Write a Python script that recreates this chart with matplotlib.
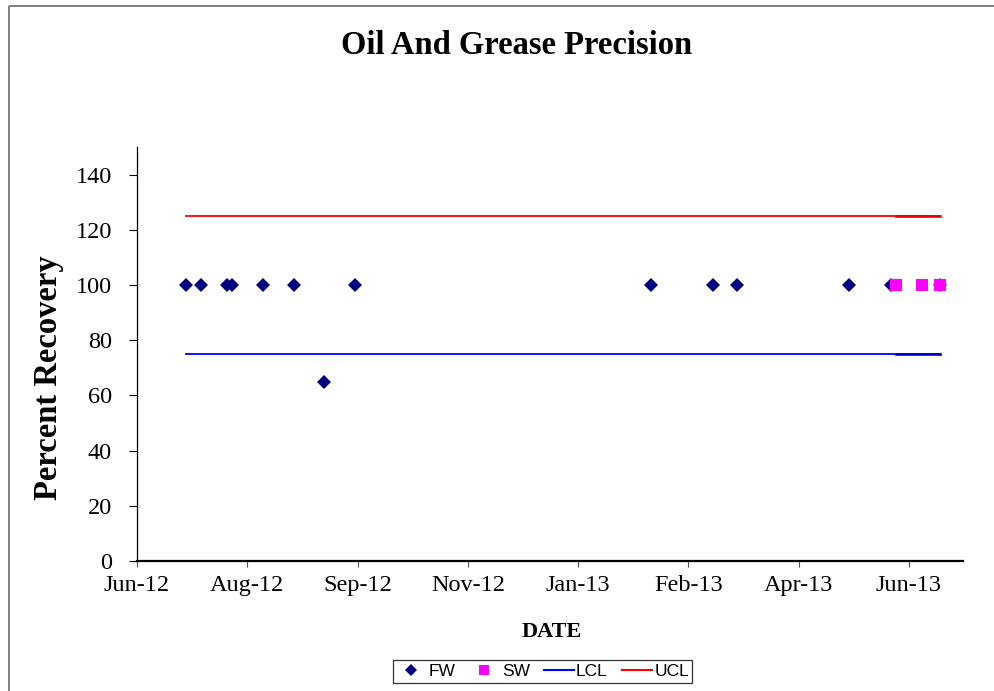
import numpy as np
import matplotlib
matplotlib.use("Agg")
import matplotlib.pyplot as plt
from matplotlib.lines import Line2D

# Recovery results (percent) by sample date
fw_dates = ["2012-07-10", "2012-07-17", "2012-07-29", "2012-07-31", "2012-08-14",
            "2012-08-28", "2012-09-11", "2012-09-25", "2013-02-06", "2013-03-06",
            "2013-03-17", "2013-05-07", "2013-05-26", "2013-06-17"]
fw_values = [100, 100, 100, 100, 100, 100, 65, 100, 100, 100, 100, 100, 100, 100]

sw_dates = ["2013-05-28", "2013-06-09", "2013-06-17"]
sw_values = [100, 100, 100]

# Control limits
lcl_value = 75
ucl_value = 125

# Axis ticks
x_tick_dates = ["2012-06-18", "2012-08-07", "2012-09-26", "2012-11-15",
                "2013-01-04", "2013-02-23", "2013-04-14", "2013-06-03"]
x_range = ["2012-06-18", "2013-06-27T12:00"]
y_ticks = [0, 20, 40, 60, 80, 100, 120, 140]

serif = ["Liberation Serif", "DejaVu Serif"]
sans = ["Liberation Sans", "DejaVu Sans"]

W, H = 995, 691
fig = plt.figure(figsize=(W / 100, H / 100), dpi=100)
fig.patch.set_facecolor("white")

ax = fig.add_axes([137 / W, 1 - 561 / H, (963 - 137) / W, (561 - 147) / H])

fw_x = np.array(fw_dates, dtype="datetime64[m]")
sw_x = np.array(sw_dates, dtype="datetime64[m]")

# Control-limit lines spanning each series' date range
ax.plot([fw_x[0], fw_x[-1]], [lcl_value, lcl_value], color="#0000FF", lw=1.3, zorder=2)
ax.plot([fw_x[0], fw_x[-1]], [ucl_value, ucl_value], color="#FF0000", lw=1.3, zorder=2)
ax.plot([sw_x[0], sw_x[-1]], [lcl_value, lcl_value], color="#0000CC", lw=1.9, zorder=2)
ax.plot([sw_x[0], sw_x[-1]], [ucl_value, ucl_value], color="#EE0000", lw=1.9, zorder=2)

ax.plot(fw_x, fw_values, linestyle="none", marker="D", ms=6.8, mew=0,
        color="#000080", zorder=3)
ax.plot(sw_x, sw_values, linestyle="none", marker="s", ms=9.2, mew=0,
        color="#FF00FF", zorder=4)

ax.set_xlim(np.array(x_range, dtype="datetime64[m]"))
ax.set_ylim(0, 150)

tick_x = np.array(x_tick_dates, dtype="datetime64[D]")
ax.set_xticks(tick_x)
ax.set_xticklabels([np.datetime64(d).astype(object).strftime("%b-%y") for d in tick_x],
                   fontfamily=serif, fontsize=17.5)
ax.set_yticks(y_ticks)
ax.set_yticklabels([str(v) for v in y_ticks], fontfamily=serif, fontsize=17.5)

ax.tick_params(axis="y", direction="out", length=6, width=0.8, pad=12, color="black")
ax.tick_params(axis="x", direction="out", length=4, width=0.8, pad=6, color="#555555")

for side in ("top", "right"):
    ax.spines[side].set_visible(False)
ax.spines["left"].set_linewidth(0.9)
ax.spines["bottom"].set_linewidth(1.6)

fig.text(517 / W, 1 - 46 / H, "Oil And Grease Precision", ha="center", va="center",
         fontfamily=serif, fontweight="bold", fontsize=23.5)
fig.text(49 / W, 1 - 378 / H, "Percent Recovery", ha="center", va="center",
         rotation=90, fontfamily=serif, fontweight="bold", fontsize=23.5)
fig.text(552 / W, 1 - 632 / H, "DATE", ha="center", va="center",
         fontfamily=serif, fontweight="bold", fontsize=16)

handles = [
    Line2D([], [], linestyle="none", marker="D", ms=5.8, mew=0, color="#000080"),
    Line2D([], [], linestyle="none", marker="s", ms=7.5, mew=0, color="#FF00FF"),
    Line2D([], [], color="#0000FF", lw=1.5),
    Line2D([], [], color="#FF0000", lw=1.5),
]
leg = fig.legend(handles, ["FW", "SW", "LCL", "UCL"], loc="center",
                 bbox_to_anchor=(542.5 / W, 1 - 671.5 / H), ncol=4,
                 prop={"family": sans, "size": 12.5}, frameon=True, fancybox=False,
                 handlelength=1.75, handletextpad=0.12, columnspacing=0.8,
                 borderpad=0.2, borderaxespad=0)
leg.get_frame().set_edgecolor("black")
leg.get_frame().set_linewidth(0.9)

# Chart-area border (left and top edges, running off the canvas)
border_x = 8.5 / W
border_y = 1 - 5.5 / H
fig.add_artist(Line2D([border_x, border_x], [-0.05, border_y], transform=fig.transFigure,
                      color="#7f7f7f", lw=1.4, solid_capstyle="butt"))
fig.add_artist(Line2D([border_x, 1.05], [border_y, border_y], transform=fig.transFigure,
                      color="#7f7f7f", lw=1.4, solid_capstyle="butt"))

fig.savefig("out.png", dpi=100, facecolor="white")
